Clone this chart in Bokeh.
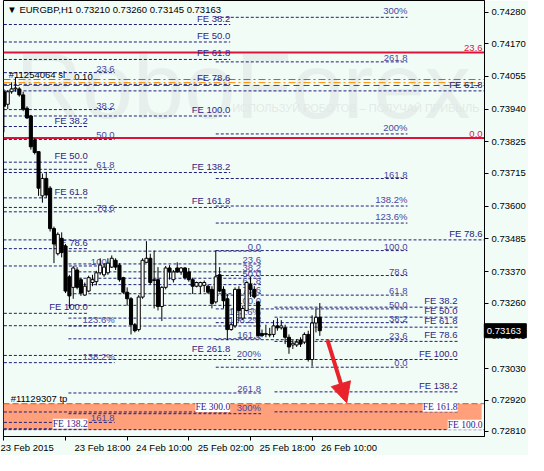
from bokeh.plotting import figure
from bokeh.models import (Range1d, FixedTicker, PrintfTickFormatter, ColumnDataSource,
                          LabelSet, Label, Arrow, NormalHead)
from bokeh.core.properties import value
from bokeh.embed import file_html
from bokeh.resources import INLINE

# ---------------- data ----------------
SYMBOL = "EURGBP,H1"
LAST_OHLC = ["0.73210", "0.73260", "0.73145", "0.73163"]
LAST_PRICE = 0.73163

opens = [0.74001, 0.73957, 0.74001, 0.74011, 0.74011, 0.73990, 0.73943, 0.73916, 0.73832, 0.73791,
         0.73636, 0.73697, 0.73663, 0.73521, 0.73433, 0.73487, 0.73460, 0.73352, 0.73315, 0.73376,
         0.73342, 0.73288, 0.73302, 0.73332, 0.73335, 0.73366, 0.73359, 0.73366, 0.73386, 0.73410,
         0.73393, 0.73349, 0.73298, 0.73275, 0.73184, 0.73167, 0.73281, 0.73403, 0.73417, 0.73339,
         0.73342, 0.73248, 0.73315, 0.73383, 0.73342, 0.73383, 0.73369, 0.73383, 0.73369, 0.73342,
         0.73319, 0.73319, 0.73322, 0.73319, 0.73308, 0.73264, 0.73359, 0.73308, 0.73275, 0.73167,
         0.73180, 0.73308, 0.73207, 0.73234, 0.73325, 0.73308, 0.73264, 0.73153, 0.73150, 0.73150,
         0.73150, 0.73180, 0.73173, 0.73173, 0.73140, 0.73113, 0.73113, 0.73130, 0.73123, 0.73150,
         0.73062, 0.73190, 0.73210]
highs = [0.74011, 0.74007, 0.74034, 0.74051, 0.74017, 0.74001, 0.73950, 0.73920, 0.73838, 0.73791,
         0.73714, 0.73720, 0.73670, 0.73528, 0.73508, 0.73508, 0.73467, 0.73359, 0.73390, 0.73386,
         0.73349, 0.73332, 0.73356, 0.73359, 0.73373, 0.73417, 0.73400, 0.73417, 0.73427, 0.73417,
         0.73400, 0.73352, 0.73315, 0.73281, 0.73190, 0.73288, 0.73417, 0.73477, 0.73433, 0.73444,
         0.73386, 0.73319, 0.73390, 0.73393, 0.73376, 0.73403, 0.73386, 0.73386, 0.73383, 0.73349,
         0.73335, 0.73335, 0.73339, 0.73325, 0.73319, 0.73444, 0.73386, 0.73319, 0.73292, 0.73190,
         0.73315, 0.73319, 0.73251, 0.73335, 0.73352, 0.73319, 0.73268, 0.73167, 0.73184, 0.73173,
         0.73200, 0.73207, 0.73200, 0.73184, 0.73150, 0.73130, 0.73133, 0.73140, 0.73157, 0.73163,
         0.73217, 0.73241, 0.73260]
lows = [0.73859, 0.73940, 0.73994, 0.74001, 0.73984, 0.73933, 0.73906, 0.73798, 0.73781, 0.73636,
        0.73612, 0.73629, 0.73511, 0.73400, 0.73427, 0.73420, 0.73295, 0.73241, 0.73275, 0.73308,
        0.73285, 0.73285, 0.73298, 0.73319, 0.73322, 0.73359, 0.73352, 0.73359, 0.73383, 0.73376,
        0.73335, 0.73292, 0.73251, 0.73150, 0.73157, 0.73160, 0.73275, 0.73400, 0.73325, 0.73241,
        0.73234, 0.73197, 0.73308, 0.73342, 0.73332, 0.73366, 0.73359, 0.73342, 0.73335, 0.73292,
        0.73315, 0.73292, 0.73298, 0.73292, 0.73241, 0.73258, 0.73298, 0.73241, 0.73130, 0.73163,
        0.73173, 0.73197, 0.73200, 0.73231, 0.73281, 0.73275, 0.73140, 0.73140, 0.73140, 0.73140,
        0.73140, 0.73163, 0.73167, 0.73116, 0.73082, 0.73099, 0.73106, 0.73106, 0.73116, 0.73055,
        0.73038, 0.73157, 0.73145]
closes = [0.73950, 0.74001, 0.74011, 0.74014, 0.73990, 0.73940, 0.73909, 0.73808, 0.73788, 0.73663,
          0.73697, 0.73639, 0.73521, 0.73467, 0.73501, 0.73437, 0.73302, 0.73285, 0.73383, 0.73315,
          0.73295, 0.73319, 0.73349, 0.73342, 0.73366, 0.73393, 0.73386, 0.73400, 0.73417, 0.73386,
          0.73342, 0.73298, 0.73275, 0.73184, 0.73163, 0.73281, 0.73410, 0.73417, 0.73332, 0.73342,
          0.73248, 0.73315, 0.73383, 0.73369, 0.73369, 0.73369, 0.73383, 0.73349, 0.73342, 0.73319,
          0.73332, 0.73332, 0.73332, 0.73298, 0.73258, 0.73352, 0.73302, 0.73268, 0.73167, 0.73184,
          0.73308, 0.73234, 0.73241, 0.73332, 0.73308, 0.73281, 0.73146, 0.73146, 0.73153, 0.73148,
          0.73180, 0.73173, 0.73180, 0.73140, 0.73106, 0.73119, 0.73123, 0.73116, 0.73150, 0.73062,
          0.73190, 0.73210, 0.73163]
bar_index = list(range(len(opens)))

time_tick_bars = [0, 16, 32, 48, 64, 80]
time_tick_labels = ["23 Feb 2015", "23 Feb 18:00", "24 Feb 10:00", "25 Feb 02:00",
                    "25 Feb 18:00", "26 Feb 10:00"]
price_ticks = [0.74280, 0.74170, 0.74055, 0.73940, 0.73825, 0.73715, 0.73600, 0.73485,
               0.73370, 0.73260, 0.73145, 0.73030, 0.72920, 0.72810]

# Fibonacci retracements (level -> label)
ret_levels = [0, 23.6, 38.2, 50, 61.8, 78.6, 100, 123.6, 138.2, 161.8, 200, 261.8, 300]
ret_labels = ["0.0", "23.6", "38.2", "50.0", "61.8", "78.6", "100.0", "123.6%", "138.2%",
              "161.8", "200%", "261.8", "300%"]
fib_a_anchor = [0.742775, 0.73390]      # price at 0 %, price at 100 %
fib_a_bars = [0, 28.75]
fib_a_shown = [1, 2, 3, 4, 5, 6, 7, 8, 9]
fib_c_anchor = [0.73442, 0.73252]
fib_c_bars = [16.75, 66.75]
fib_d_anchor = [0.73035, 0.73444]
fib_d_bars = [55, 104.75]

# Fibonacci expansions
fe_levels = [38.2, 50, 61.8, 78.6, 100, 138.2, 161.8, 261.8, 300]
fe1_anchor = [0.74435, 0.73916]
fe1_bars = [0, 58.75]
fe2_anchor = [0.74284, 0.73224]
fe2_bars = [0, 21.75]
fe2_count = 6
fe3_anchor = [0.73359, 0.73062]
fe3_bars = [70.25, 117.75]
fe3_count = 7
fe4_anchor = [0.75926, 0.72816]
fe4_levels = [61.8, 78.6, 100]
fe4_label_bar = 124.25

# red fibo levels
red_levels = [0.73839, 0.74139]
red_labels = ["0.0", "23.6"]

# orders
sl_prices = [0.74044, 0.74033]
entry_price = 0.74023
sl_label = "#11254064 sl"
sl_value = "0.10"
tp_price = 0.72907
tp_label = "#11129307 tp"
zone_bottom = 0.72816
arrow_from = [84, 0.73130]
arrow_to = [89, 0.72910]

# ---------------- styles ----------------
BG = "#f2fcf7"
NAVY = "#1e1e78"
FE_TXT = "#2f2386"
FIB_TXT = "#4848a0"
RED = "#dc143c"
ARROW_RED = "#e8232b"
FONT = "Liberation Sans"
FS = "9.5px"
X_START = -0.1
X_END = 124.75
BOX_DX = 5.4          # price box centre, in bars right of the frame edge
BOX_DX_TEXT = 0.6

p = figure(width=528, height=455, output_backend="svg", toolbar_location=None,
           x_range=Range1d(X_START, X_END), y_range=Range1d(0.72792, 0.74321),
           y_axis_location="right", min_border_left=3, min_border_right=41,
           min_border_top=0, min_border_bottom=17,
           background_fill_color=BG, border_fill_color=BG)
p.grid.visible = False
p.outline_line_color = "black"

# watermark
p.text(x=[3.0], y=[0.74020], text=["RoboForex"], text_font=value(FONT),
       text_font_size="92px", text_color="#e6efeb", text_baseline="alphabetic")
p.text(x=[59.25], y=[0.73943], text=["ИСПОЛЬЗУЙ РОБОТОВ – ПОЛУЧАЙ ПРИБЫЛЬ"],
       text_font=value(FONT), text_font_size="11px", text_color="#e2eae6",
       text_baseline="alphabetic")

# take-profit zone
p.quad(left=[X_START], right=[124.0], top=[tp_price], bottom=[zone_bottom],
       fill_color="#ffa07a", line_color=None)

# build fib lines / labels
lx0, lx1, ly = [], [], []
tx, ty, tt, tc = [], [], [], []
bx, by, bt = [], [], []


def add_level(price, line_bars, label_bar, label, color, boxed=False):
    lx0.append(line_bars[0]); lx1.append(line_bars[1]); ly.append(price)
    if boxed:
        bx.append(label_bar); by.append(price); bt.append(label)
    else:
        tx.append(label_bar); ty.append(price); tt.append(label); tc.append(color)


def lvl(anchor, r):
    return anchor[0] + (anchor[1] - anchor[0]) * r / 100.0


def in_zone(pr):
    return zone_bottom - 1e-5 <= pr <= tp_price + 1e-5


for k in fib_a_shown:
    add_level(lvl(fib_a_anchor, ret_levels[k]), fib_a_bars, fib_a_bars[1], ret_labels[k], FIB_TXT)
for r, lab in zip(ret_levels, ret_labels):
    add_level(lvl(fib_c_anchor, r), fib_c_bars, fib_c_bars[1], lab, FIB_TXT)
    add_level(lvl(fib_d_anchor, r), fib_d_bars, fib_d_bars[1], lab, FIB_TXT)
for r in fe_levels:
    pr = lvl(fe1_anchor, r)
    add_level(pr, fe1_bars, fe1_bars[1], "FE %.1f" % r, FE_TXT, in_zone(pr))
for r in fe_levels[:fe2_count]:
    pr = lvl(fe2_anchor, r)
    add_level(pr, fe2_bars, fe2_bars[1], "FE %.1f" % r, FE_TXT, in_zone(pr))
for r in fe_levels[:fe3_count]:
    pr = lvl(fe3_anchor, r)
    add_level(pr, fe3_bars, fe3_bars[1], "FE %.1f" % r, FE_TXT, in_zone(pr))
for r in fe4_levels:
    pr = lvl(fe4_anchor, r)
    add_level(pr, [X_START, X_END], fe4_label_bar, "FE %.1f" % r, "#22226a", in_zone(pr))

p.segment(x0=lx0, y0=ly, x1=lx1, y1=ly, line_color=NAVY, line_width=1, line_dash="3 2")

# red levels
n_red = len(red_levels)
p.segment(x0=[X_START] * n_red, y0=red_levels, x1=[X_END] * n_red,
          y1=red_levels, line_color=RED, line_width=2)
p.text(x=[fe4_label_bar] * n_red, y=red_levels, text=red_labels,
       text_font=value(FONT), text_font_size=FS, text_color=RED,
       text_align="right", text_baseline="bottom", y_offset=-1)

# orders
p.segment(x0=[X_START] * 2, y0=sl_prices, x1=[X_END] * 2, y1=sl_prices,
          line_color=["#ff4500", "#ff8c00"], line_width=1, line_dash="7 3 2 3")
p.segment(x0=[X_START], y0=[entry_price], x1=[X_END], y1=[entry_price],
          line_color="#008000", line_width=1, line_dash="6 4")
p.segment(x0=[X_START], y0=[tp_price], x1=[X_END], y1=[tp_price],
          line_color="#ff4500", line_width=1, line_dash="6 3")
p.text(x=[1.25, 18.25], y=[sl_prices[0], sl_prices[0]], text=[sl_label, sl_value],
       text_font=value(FONT), text_font_size=FS, text_color="black",
       text_baseline="bottom", y_offset=1)
p.text(x=[1.75], y=[tp_price], text=[tp_label], text_font=value(FONT),
       text_font_size=FS, text_color="black", text_baseline="bottom")

# fib labels
p.text(x=tx, y=ty, text=tt, text_color=tc, text_font=value(FONT), text_font_size=FS,
       text_align="right", text_baseline="bottom", y_offset=-1)

# candles
src = ColumnDataSource(dict(
    x=bar_index, high=highs, low=lows,
    top=[max(o, c) for o, c in zip(opens, closes)],
    bottom=[min(o, c) for o, c in zip(opens, closes)],
    fill=["white" if c >= o else "black" for o, c in zip(opens, closes)]))
p.segment(x0="x", y0="high", x1="x", y1="low", source=src, line_color="black", line_width=1)
p.vbar(x="x", width=0.8, top="top", bottom="bottom", source=src,
       fill_color="fill", line_color="black", line_width=1)

# boxed FE labels in the zone
p.add_layout(LabelSet(x="x", y="y", text="t", source=ColumnDataSource(dict(x=bx, y=by, t=bt)),
                      text_font=FONT, text_font_size=FS, text_color=FE_TXT,
                      text_align="right", text_baseline="bottom",
                      background_fill_color="white"))

# arrow
p.add_layout(Arrow(end=NormalHead(size=20, fill_color=ARROW_RED, line_color=ARROW_RED),
                   x_start=arrow_from[0], y_start=arrow_from[1],
                   x_end=arrow_to[0], y_end=arrow_to[1],
                   line_color=ARROW_RED, line_width=4))

# header
p.add_layout(Label(x=0.9, y=0.74289, text="▼ " + SYMBOL + "  " + " ".join(LAST_OHLC),
                   text_font=FONT, text_font_size=FS, text_color="black",
                   text_baseline="middle"))

# axes
ya = p.yaxis[0]
ya.ticker = FixedTicker(ticks=price_ticks)
ya.formatter = PrintfTickFormatter(format="%.5f")

# MT4 writes the time labels starting at the tick: pad on the left with
# no-break spaces of about the same width so the centred label starts at its tick
ADV = {"0": .556, "1": .556, "2": .556, "3": .556, "4": .556, "5": .556, "6": .556,
       "7": .556, "8": .556, "9": .556, " ": .278, ":": .278, "F": .611, "e": .556, "b": .556}
PAD_GAIN = 1.3


def left_aligned(label, first):
    if first:
        return label          # the first label is pushed inside the canvas anyway
    w = sum(ADV.get(ch, .556) for ch in label)
    return "\u00a0" * int(round(w / .278 * PAD_GAIN)) + label


xa = p.xaxis[0]
xa.ticker = FixedTicker(ticks=time_tick_bars)
xa.major_label_overrides = {t: left_aligned(l, k == 0)
                            for k, (t, l) in enumerate(zip(time_tick_bars, time_tick_labels))}
for ax in (xa, ya):
    ax.axis_line_color = "black"
    ax.major_tick_line_color = "black"
    ax.minor_tick_line_color = None
    ax.major_tick_in = 0
    ax.major_tick_out = 4
    ax.major_label_text_font = FONT
    ax.major_label_text_font_size = FS
    ax.major_label_text_color = "black"
ya.major_label_standoff = 3
xa.major_label_standoff = 1

# current price box on the price scale (overlay level: drawn over the axis)
p.rect(x=[X_END + BOX_DX], y=[LAST_PRICE], width=42, height=14, width_units="screen",
       height_units="screen", fill_color="black", line_color="black", level="overlay")
p.text(x=[X_END + BOX_DX_TEXT], y=[LAST_PRICE], text=["%.5f" % LAST_PRICE],
       text_font=value(FONT), text_font_size=FS, text_color="white",
       text_baseline="middle", text_align="left", level="overlay")

open("out.html", "w").write(file_html(p, INLINE))
